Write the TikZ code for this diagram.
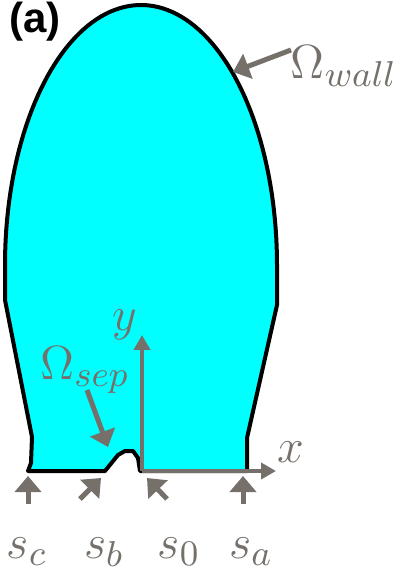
\documentclass[tikz,border=0pt]{standalone}
\usepackage{fontspec}
\newfontfamily\arialfont{Liberation Sans}
\usetikzlibrary{arrows.meta}
\definecolor{lblgray}{RGB}{118,112,107}
\definecolor{fillcyan}{RGB}{0,255,255}
\tikzset{
  wall/.style={draw=black, line width=1pt, fill=fillcyan, line join=round},
  axisarrow/.style={draw=lblgray, line width=1pt, -{Triangle[width=4pt,length=3.75pt]}},
  bigarrow/.style={draw=lblgray, line width=1.25pt, -{Triangle[width=6.5pt,length=4pt]}},
  lbl/.style={text=lblgray, inner sep=0pt, font=\fontsize{12.5}{14}\selectfont},
}
\begin{document}
\begin{tikzpicture}[x=0.25pt, y=-0.25pt]
\useasboundingbox (0,0) rectangle (404,575);
% domain outline
\draw[wall] (28,471) -- (31,463) -- (32,437) -- (5,300)
  -- plot[domain=180:0, samples=90] ({141+136*cos(\x)}, {265-260*sin(\x)})
  -- (277,305) -- (247,438) -- (247,471) -- (140,471) -- (138,458)
  -- (133,451) -- (125,451) -- (118,455) -- (105,471) -- cycle;
% axes
\coordinate (O) at (142,471);
\coordinate (ytip) at (142,335);
\coordinate (xtip) at (276,471);
\draw[axisarrow] (O) -- (ytip);
\draw[axisarrow] (O) -- (xtip);
\node[lbl] (ylab) at (125,325) {$y$};
\node[lbl] (xlab) at (291,452) {$x$};
% labels (a)
\node[inner sep=0pt, font=\arialfont\bfseries\fontsize{10.5}{12}\selectfont] (tag) at (35,22) {(a)};
% Omega wall
\node[lbl] (owall) at (344,66) {$\Omega_{wall}$};
\coordinate (owtail) at (291,50);
\coordinate (owtip) at (233,72);
\draw[bigarrow] (owtail) -- (owtip);
% Omega sep
\node[lbl] (osep) at (85,370) {$\Omega_{sep}$};
\coordinate (ostail) at (87,390);
\coordinate (ostip) at (108,447);
\draw[bigarrow] (ostail) -- (ostip);
% bottom arrows
\coordinate (sctail) at (28,504); \coordinate (sctip) at (28,476);
\coordinate (sbtail) at (80,499); \coordinate (sbtip) at (101,478);
\coordinate (s0tail) at (167,499); \coordinate (s0tip) at (147,478);
\coordinate (satail) at (243,504); \coordinate (satip) at (243,476);
\draw[bigarrow] (sctail) -- (sctip);
\draw[bigarrow] (sbtail) -- (sbtip);
\draw[bigarrow] (s0tail) -- (s0tip);
\draw[bigarrow] (satail) -- (satip);
\node[lbl] (sc) at (27,552) {$s_c$};
\node[lbl] (sb) at (104,552) {$s_b$};
\node[lbl] (s0) at (179,552) {$s_0$};
\node[lbl] (sa) at (251,552) {$s_a$};
\end{tikzpicture}
\end{document}
